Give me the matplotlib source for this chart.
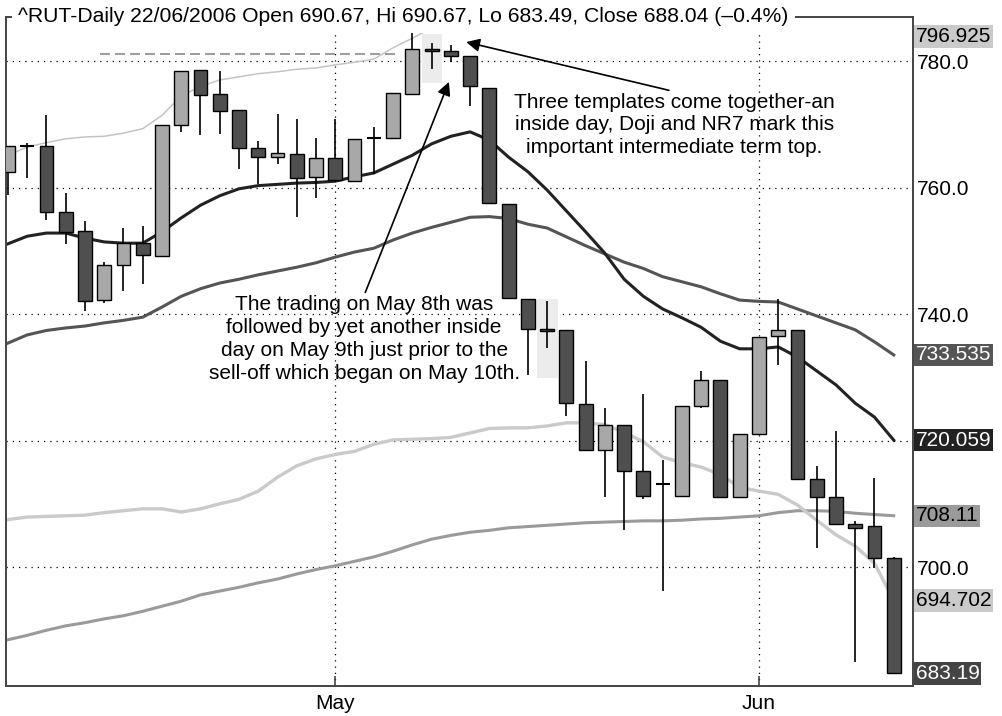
#!/usr/bin/env python3

import matplotlib
matplotlib.use("Agg")
import matplotlib.pyplot as plt
from matplotlib.transforms import blended_transform_factory

plt.rcParams["font.family"] = ["Liberation Sans", "DejaVu Sans"]

# daily candles, ^RUT, early April to mid June 2006
opens = [762.4, 766.5, 766.5, 756.2, 753.1, 742.2, 747.7, 751.2, 749.2, 769.9,
         778.6, 774.8, 772.3, 766.3, 764.9, 765.3, 761.6, 764.7, 761.1, 767.9,
         767.9, 774.8, 781.9, 781.6, 780.8, 775.8, 757.4, 742.4, 737.6, 737.4,
         725.8, 718.5, 722.5, 715.2, 713.1, 711.2, 725.5, 729.6, 711.0, 721.0,
         736.5, 737.4, 713.9, 711.0, 706.8, 706.5, 701.4]
highs = [766.5, 767.1, 771.5, 759.2, 754.7, 748.3, 753.6, 753.9, 769.9, 778.5,
         778.6, 778.5, 772.3, 767.4, 771.7, 770.9, 767.8, 770.8, 767.7, 769.5,
         774.9, 784.6, 782.8, 782.5, 780.8, 775.8, 757.4, 742.4, 742.1, 737.4,
         732.5, 725.2, 722.5, 727.3, 717.0, 725.5, 731.0, 729.6, 721.1, 736.4,
         742.4, 737.4, 716.0, 721.5, 707.2, 714.0, 701.6]
lows = [758.8, 761.5, 754.8, 751.0, 740.5, 741.7, 743.6, 744.7, 749.2, 768.7,
        768.3, 768.5, 763.0, 760.6, 763.7, 755.4, 758.3, 760.8, 761.1, 762.2,
        767.9, 774.8, 778.8, 779.8, 772.9, 757.6, 742.6, 730.4, 734.7, 723.9,
        718.3, 711.0, 705.8, 710.7, 696.2, 711.2, 725.2, 711.0, 711.0, 721.0,
        731.9, 713.7, 703.0, 706.8, 685.0, 699.8, 683.19]
closes = [766.5, 766.5, 756.2, 752.9, 742.1, 747.7, 751.2, 749.4, 769.9, 778.5,
          774.7, 772.1, 766.2, 764.9, 765.4, 761.5, 764.6, 761.2, 767.7, 767.9,
          774.9, 781.9, 781.6, 780.8, 776.0, 757.6, 742.6, 737.6, 737.3, 725.9,
          718.5, 722.5, 715.2, 711.2, 713.1, 725.5, 729.6, 711.0, 721.1, 736.4,
          737.5, 713.9, 711.0, 706.8, 706.2, 701.4, 683.19]

# overlays
ma_fast = [751.1, 752.3, 752.8, 752.8, 752.0, 751.4, 751.2, 751.2, 753.0, 755.2,
           757.2, 758.7, 759.8, 760.3, 760.5, 760.7, 760.8, 761.0, 761.7, 762.3,
           763.7, 765.1, 766.9, 768.1, 768.8, 767.5, 764.8, 762.5, 759.6, 756.3,
           753.0, 749.6, 745.5, 742.8, 740.8, 739.4, 737.9, 735.7, 734.5, 734.5,
           734.8, 733.2, 731.0, 728.8, 725.9, 723.7, 720.059]
ma_mid = [735.4, 736.7, 737.4, 737.8, 738.1, 738.6, 739.0, 739.5, 741.1, 742.8,
          744.0, 744.9, 745.5, 746.2, 746.8, 747.4, 748.1, 749.0, 749.8, 750.4,
          751.7, 752.8, 753.7, 754.5, 755.3, 755.4, 755.1, 754.2, 753.6, 752.2,
          750.8, 749.5, 748.2, 747.2, 745.9, 745.1, 744.3, 743.2, 742.2, 742.0,
          741.9, 740.8, 739.7, 738.6, 737.5, 735.6, 733.535]
ma_slow = [688.5, 689.2, 690.0, 690.7, 691.2, 691.8, 692.3, 693.0, 693.8, 694.6,
           695.6, 696.2, 696.8, 697.5, 698.1, 698.9, 699.6, 700.2, 700.9, 701.6,
           702.5, 703.5, 704.4, 705.0, 705.5, 705.8, 706.2, 706.4, 706.6, 706.8,
           707.0, 707.1, 707.2, 707.3, 707.3, 707.4, 707.6, 707.7, 707.9, 708.1,
           708.6, 708.9, 708.9, 708.8, 708.5, 708.3, 708.11]
band_upper = [765.1, 766.4, 767.1, 767.7, 768.0, 768.1, 768.6, 769.3, 771.4, 774.5,
              776.0, 777.0, 777.5, 778.0, 778.3, 778.7, 778.9, 779.4, 779.8, 780.3,
              782.1, 783.6, 785.2, 788.5, 791.0, 793.0, 795.0, 797.0, 798.5, 799.5,
              800.0, 800.5, 801.0, 801.0, 800.5, 800.0, 799.5, 799.0, 798.5, 798.0,
              797.5, 797.5, 797.2, 797.0, 797.0, 796.9, 796.925]
band_lower = [707.5, 707.9, 708.0, 708.1, 708.2, 708.6, 708.9, 709.2, 709.2, 708.7,
              709.2, 710.0, 710.7, 712.0, 714.2, 716.0, 717.1, 717.8, 718.3, 719.4,
              720.1, 720.2, 720.3, 720.5, 721.2, 721.9, 722.0, 722.0, 722.3, 722.8,
              722.8, 722.5, 721.3, 719.8, 717.4, 716.5, 715.8, 714.6, 712.6, 712.0,
              711.5, 709.8, 707.4, 705.1, 703.3, 700.6, 694.702]

month_ticks = [17, 39]
month_labels = ["May", "Jun"]
y_ticks = [700, 720, 740, 760, 780]
# 720.0 sits under the 720.059 tag in the original
y_labels = ["700.0", "", "740.0", "760.0", "780.0"]

prior_high = 781.06
prior_high_span = (4.8, 20.2)
highlights = [(22, 776.6, 784.3), (28, 729.9, 742.4)]

title = "^RUT-Daily 22/06/2006 Open 690.67, Hi 690.67, Lo 683.49, Close 688.04 (\u20130.4%)"
note_top = ("Three templates come together-an\n"
            "inside day, Doji and NR7 mark this\n"
            "important intermediate term top.")
note_mid = ("The trading on May 8th was\n"
            "followed by yet another inside\n"
            "day on May 9th just prior to the\n"
            "sell-off which began on May 10th.")

DARK = "#4f4f4f"
LIGHT = "#a8a8a8"

fig = plt.figure(figsize=(10.03, 7.16), dpi=100)
ax = fig.add_axes([6 / 1003, 1 - 686 / 716, 907 / 1003, 669 / 716])

n = len(closes)
xs = list(range(n))

# grid
for v in y_ticks:
    ax.axhline(v, color="black", lw=0.9, ls=(0, (1, 4)), zorder=0)
for m in month_ticks:
    ax.axvline(m, color="black", lw=0.9, ls=(0, (1, 4)), zorder=0)

# highlight boxes behind the key candles
for i, lo, hi in highlights:
    ax.add_patch(plt.Rectangle((i - 0.5, lo), 1.05, hi - lo, color="#ececec", lw=0, zorder=0.5))

ax.hlines(prior_high, prior_high_span[0], prior_high_span[1], color="#8a8a8a", lw=1.2,
          ls=(0, (6, 3)), zorder=1)

ax.plot(xs, ma_slow, color="#9a9a9a", lw=2.2, zorder=1)
ax.plot(xs, band_lower, color="#cacaca", lw=2.4, zorder=1)
ax.plot(xs, band_upper, color="#c4c4c4", lw=1.1, zorder=1)
ax.plot(xs, ma_mid, color="#555555", lw=2.2, zorder=1)
ax.plot(xs, ma_fast, color="#222222", lw=2.2, zorder=1)

# candles
ax.vlines(xs, lows, highs, color="black", lw=1.2, zorder=2)
width = 0.72
for i in xs:
    o, c = opens[i], closes[i]
    if o == c:
        ax.hlines(o, i - width / 2, i + width / 2, color="black", lw=1.5, zorder=3)
        continue
    ax.bar(i, abs(c - o), width=width, bottom=min(o, c), color=DARK if c < o else LIGHT,
           edgecolor="black", lw=1.0, zorder=3)

ax.set_xlim(-0.1, 47.0)
ax.set_ylim(681.19, 786.96)

for s in ["left", "bottom", "right", "top"]:
    ax.spines[s].set_color("#444444")
    ax.spines[s].set_linewidth(1.4)

ax.yaxis.tick_right()
ax.set_yticks(y_ticks)
ax.set_yticklabels(y_labels)
ax.tick_params(axis="y", length=0, pad=3, labelsize=15)
ax.set_xticks(month_ticks)
ax.set_xticklabels(month_labels)
ax.tick_params(axis="x", direction="in", length=7, width=1.2, color="#444444", pad=6, labelsize=15)

# last-value tags on the price axis
tr = blended_transform_factory(ax.transAxes, ax.transData)
tags = [(796.925, "796.925", "#cacaca", "black", 783.9),
        (ma_mid[-1], f"{ma_mid[-1]:.3f}", "#555555", "white", None),
        (ma_fast[-1], f"{ma_fast[-1]:.3f}", "#222222", "white", None),
        (ma_slow[-1], f"{ma_slow[-1]:.2f}", "#9a9a9a", "black", None),
        (band_lower[-1], f"{band_lower[-1]:.3f}", "#cacaca", "black", None),
        (closes[-1], f"{closes[-1]:.2f}", "#444444", "white", None)]
for v, label, bg, fg, shown_at in tags:
    ax.text(1.003, shown_at if shown_at else v, label, transform=tr, ha="left", va="center",
            fontsize=15, color=fg, clip_on=False, zorder=10,
            bbox=dict(boxstyle="square,pad=0.08", fc=bg, ec="none"))

ax.text(0.0132, 1.0, title, transform=ax.transAxes, ha="left", va="center", fontsize=15.2,
        zorder=10, bbox=dict(boxstyle="square,pad=0.3", fc="white", ec="none"))

ax.annotate(note_top, xy=(23.8, 783.0), xytext=(34.6, 769.9), ha="center", va="center",
            fontsize=15, linespacing=1.22,
            arrowprops=dict(arrowstyle="-|>", color="black", lw=1.2, mutation_scale=20,
                            shrinkA=0, shrinkB=0, relpos=(0.52, 1.0)))
ax.annotate(note_mid, xy=(22.9, 776.7), xytext=(18.5, 736.0), ha="center", va="center",
            fontsize=15, linespacing=1.27,
            arrowprops=dict(arrowstyle="-|>", color="black", lw=1.2, mutation_scale=20,
                            shrinkA=0, shrinkB=0, relpos=(0.5, 1.0)))

fig.savefig("out.png", dpi=100)
